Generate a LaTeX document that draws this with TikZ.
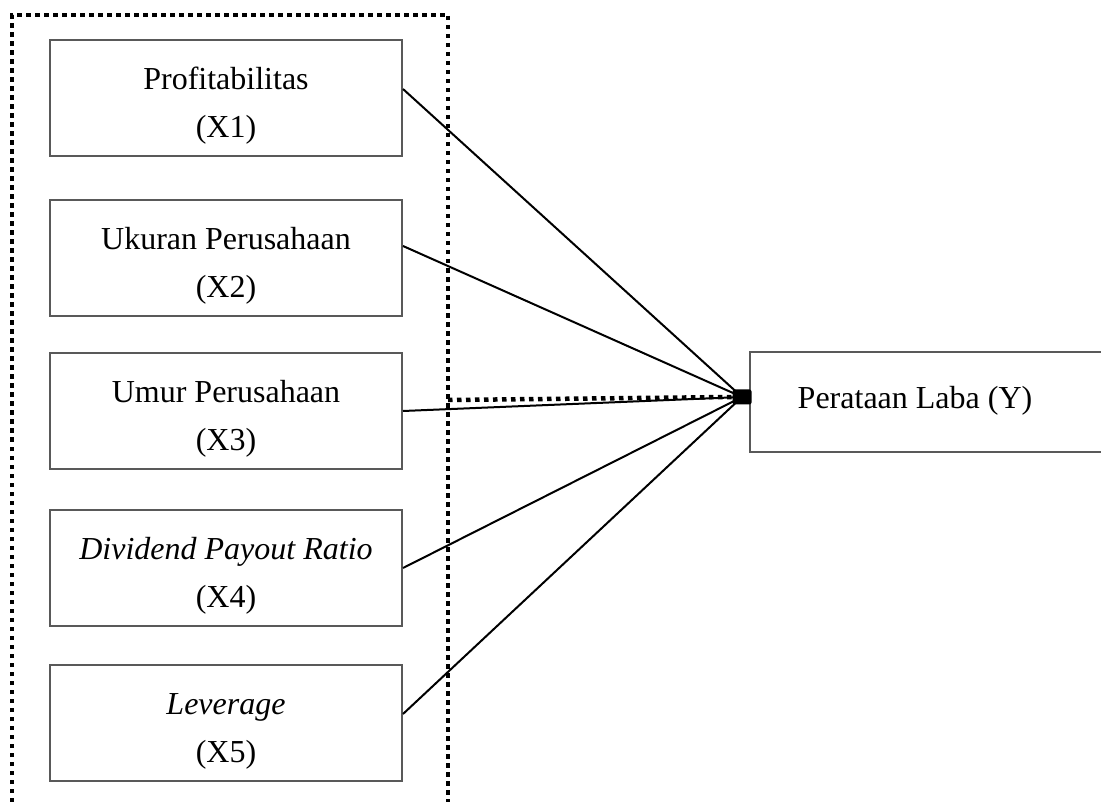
\documentclass[tikz,border=0pt]{standalone}
\usepackage{fontspec}
\setmainfont{Liberation Serif}
\newcommand{\tstrut}{\rule{0pt}{1.2em}}
\begin{document}
\begin{tikzpicture}[x=1pt,y=-1pt,
  varbox/.style={draw=black!65, line width=2pt, minimum width=352pt, minimum height=116pt, inner sep=0pt, align=center, font=\fontsize{32}{48}\selectfont},
  link/.style={line width=2pt, black},
  dotline/.style={line width=4.5pt, black, dash pattern=on 4.5pt off 4.5pt}]
\useasboundingbox (0,0) rectangle (1101,802);
\clip (0,0) rectangle (1101,802);
\node[varbox] (x1) at (226,98) {\tstrut Profitabilitas\\(X1)};
\node[varbox] (x2) at (226,258) {\tstrut Ukuran Perusahaan\\(X2)};
\node[varbox] (x3) at (226,411) {\tstrut Umur Perusahaan\\(X3)};
\node[varbox] (x4) at (226,568) {\tstrut\textit{Dividend Payout Ratio}\\(X4)};
\node[varbox] (x5) at (226,723) {\tstrut\textit{Leverage}\\(X5)};
\node[draw=black!65, line width=2pt, minimum width=362pt, minimum height=100pt, inner sep=0pt] (ybox) at (931,402) {};
\node[font=\fontsize{32}{48}\selectfont, inner sep=0pt] (ylab) at (915,401) {Perataan Laba (Y)};
\coordinate (tl) at (12,15);
\coordinate (tr) at (448,15);
\coordinate (bl) at (12,820);
\coordinate (br) at (448,820);
\coordinate (mid) at (448,400);
\draw[dotline] (bl) -- (tl) -- (tr) -- (br);
\node[fill=black, rounded corners=2pt, minimum width=19pt, minimum height=15pt, inner sep=0pt] (hub) at (742,397) {};
\draw[dotline] (mid) -- (hub.west);
\draw[link] (x1.east) ++(0,-9) -- (hub.center);
\draw[link] (x2.east) ++(0,-12) -- (hub.center);
\draw[link] (x3.east) -- (hub.center);
\draw[link] (x4.east) -- (hub.center);
\draw[link] (x5.east) ++(0,-9) -- (hub.center);
\end{tikzpicture}
\end{document}
